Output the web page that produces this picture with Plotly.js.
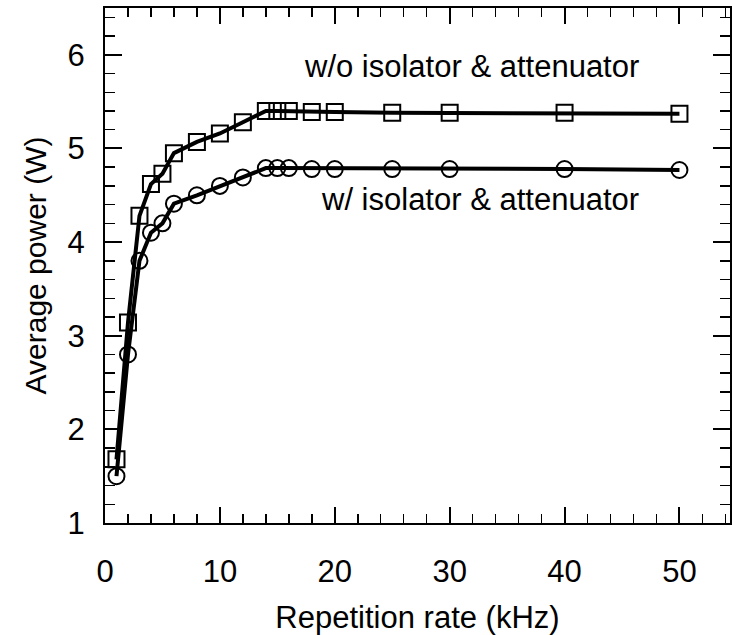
<!DOCTYPE html>
<html>
<head>
<meta charset="utf-8">
<script src="https://cdn.plot.ly/plotly-3.0.1.min.js"></script>
<style>html,body{margin:0;padding:0;background:#fff;}#chart{width:732px;height:635px;}</style>
</head>
<body>
<div id="chart"></div>
<script>
// Repetition rate (kHz)
var rateNoIso = [1, 2, 3, 4, 5, 6, 8, 10, 12, 14, 15, 16, 18, 20, 25, 30, 40, 50];
var powerNoIso = [1.68, 3.14, 4.28, 4.62, 4.73, 4.95, 5.07, 5.16, 5.28, 5.40, 5.40, 5.40, 5.39, 5.39, 5.38, 5.38, 5.38, 5.37];
var rateIso = [1, 2, 3, 4, 5, 6, 8, 10, 12, 14, 15, 16, 18, 20, 25, 30, 40, 50];
var powerIso = [1.50, 2.80, 3.80, 4.10, 4.20, 4.41, 4.50, 4.60, 4.69, 4.79, 4.79, 4.79, 4.78, 4.78, 4.78, 4.78, 4.78, 4.77];
var labelNoIso = "w/o isolator &amp; attenuator";
var labelIso = "w/ isolator &amp; attenuator";
var xTitle = "Repetition rate (kHz)";
var yTitle = "Average power (W)";

var font = "Liberation Sans, Arial, Helvetica, sans-serif";

var traces = [
  {x: rateNoIso, y: powerNoIso, mode: "lines+markers", type: "scatter",
   line: {color: "#000", width: 4},
   marker: {symbol: "square-open", size: 16, color: "#000", line: {width: 2, color: "#000"}},
   showlegend: false, hoverinfo: "skip"},
  {x: rateIso, y: powerIso, mode: "lines+markers", type: "scatter",
   line: {color: "#000", width: 4},
   marker: {symbol: "circle-open", size: 16, color: "#000", line: {width: 2, color: "#000"}},
   showlegend: false, hoverinfo: "skip"}
];

var layout = {
  width: 732, height: 635,
  margin: {l: 105, r: 2, t: 8, b: 112},
  paper_bgcolor: "#fff", plot_bgcolor: "#fff",
  font: {family: font, color: "#000", size: 30},
  xaxis: {
    range: [0, 54.4], dtick: 10, tick0: 0,
    ticks: "inside", ticklen: 16, tickwidth: 2, tickcolor: "#000",
    minor: {dtick: 2, ticks: "inside", ticklen: 9, tickwidth: 1.5, tickcolor: "#000"},
    showline: true, linecolor: "#000", linewidth: 2, mirror: "ticks",
    showgrid: false, zeroline: false,
    tickfont: {size: 31, family: font}, ticklabelstandoff: 20,
    title: {text: xTitle, font: {size: 31, family: font}, standoff: 18}
  },
  yaxis: {
    range: [1, 6.5], dtick: 1, tick0: 0,
    ticks: "inside", ticklen: 17, tickwidth: 2, tickcolor: "#000",
    minor: {dtick: 0.2, ticks: "inside", ticklen: 10, tickwidth: 1.5, tickcolor: "#000"},
    showline: true, linecolor: "#000", linewidth: 2, mirror: "ticks",
    showgrid: false, zeroline: false,
    tickfont: {size: 31, family: font}, ticklabelstandoff: 12,
    title: {text: yTitle, font: {size: 30, family: font}, standoff: 12}
  },
  annotations: [
    {x: 31.9, y: 5.88, xref: "x", yref: "y", text: labelNoIso, showarrow: false,
     font: {size: 31, family: font, color: "#000"}},
    {x: 32.6, y: 4.45, xref: "x", yref: "y", text: labelIso, showarrow: false,
     font: {size: 31, family: font, color: "#000"}}
  ]
};

Plotly.newPlot("chart", traces, layout, {staticPlot: true, displayModeBar: false});
</script>
</body>
</html>
